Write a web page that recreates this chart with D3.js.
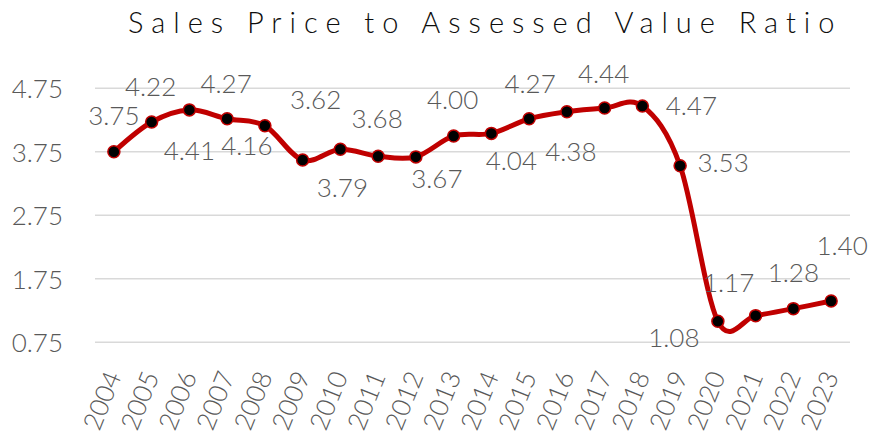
<!DOCTYPE html>
<html>
<head>
<meta charset="utf-8">
<script src="https://cdn.jsdelivr.net/npm/d3@7"></script>
<style>
  html, body { margin: 0; padding: 0; background: #fff; }
  svg { display: block; }
  text { font-family: Lato, "Open Sans", sans-serif; }
</style>
</head>
<body>
<svg id="chart" width="874" height="434"></svg>
<script>
const title = "Sales Price to Assessed Value Ratio";
const years = ["2004","2005","2006","2007","2008","2009","2010","2011","2012","2013",
               "2014","2015","2016","2017","2018","2019","2020","2021","2022","2023"];
const ratios = [3.75, 4.22, 4.41, 4.27, 4.16, 3.62, 3.79, 3.68, 3.67, 4.00,
                4.04, 4.27, 4.38, 4.44, 4.47, 3.53, 1.08, 1.17, 1.28, 1.40];
const yTicks = [0.75, 1.75, 2.75, 3.75, 4.75];

// label placement offsets (layout only), relative to each point
const labelDx = [0, -1, 0, -1, -18, 13, 2, -1, 21, -1, 20, 1, 4, -1, 49, 43, -44, -27, 0, 11];
const labelDy = [-27, -26, 50, -26, 29, -51, 48, -28, 31, -27, 37, -26, 49, -25, 9, 6, 26, -24, -27, -46];

const svg = d3.select("#chart");
const plotLeft = 95, plotRight = 850, plotTop = 88.3, plotBottom = 342.3;

const x = d3.scaleBand().domain(years).range([plotLeft, plotRight]);
const y = d3.scaleLinear().domain([0.75, 4.75]).range([plotBottom, plotTop]);
const cx = d => x(d) + x.bandwidth() / 2;

// title
const t = svg.append("text")
  .attr("x", 128).attr("y", 33)
  .attr("fill", "#0d0d0d")
  .style("font-size", "29px").style("font-weight", 300)
  .text(title);
const target = 707;
const w0 = t.node().getComputedTextLength();
const ls = (target - w0) / (title.length - 1);
t.style("letter-spacing", ls + "px");

// gridlines
svg.append("g").selectAll("line").data(yTicks).join("line")
  .attr("x1", plotLeft).attr("x2", plotRight)
  .attr("y1", d => y(d)).attr("y2", d => y(d))
  .attr("stroke", "#d9d9d9").attr("stroke-width", 1.5);

// y axis labels via d3 axis
const yAxis = d3.axisLeft(y).tickValues(yTicks).tickFormat(d3.format(".2f")).tickSize(0).tickPadding(0);
const gy = svg.append("g").attr("transform", "translate(63,0)").call(yAxis);
gy.select(".domain").remove();
gy.selectAll("text")
  .attr("fill", "#595959")
  .style("font-size", "26px").style("font-weight", 300)
  .style("font-family", "Lato, 'Open Sans', sans-serif")
  .attr("dy", "0.36em");

// x axis labels via d3 axis
const xAxis = d3.axisBottom(x).tickSize(0).tickPadding(0);
const gx = svg.append("g").call(xAxis);
gx.select(".domain").remove();
gx.selectAll(".tick").attr("transform", d => `translate(${cx(d) + 8},376)`);
gx.selectAll("text")
  .attr("fill", "#595959")
  .style("font-size", "26px").style("font-weight", 300)
  .style("font-family", "Lato, 'Open Sans', sans-serif")
  .attr("x", 0).attr("y", 0).attr("dy", 0)
  .attr("text-anchor", "end")
  .attr("transform", "rotate(-68)");

// line
const pts = years.map((yr, i) => ({yr, v: ratios[i], i}));
const line = d3.line().x(d => cx(d.yr)).y(d => y(d.v)).curve(d3.curveCardinal.tension(0));
svg.append("path").datum(pts)
  .attr("d", line)
  .attr("fill", "none")
  .attr("stroke", "#C00000")
  .attr("stroke-width", 5)
  .attr("stroke-linejoin", "round")
  .attr("stroke-linecap", "round");

// markers
svg.append("g").selectAll("circle").data(pts).join("circle")
  .attr("cx", d => cx(d.yr)).attr("cy", d => y(d.v))
  .attr("r", 6)
  .attr("fill", "#000")
  .attr("stroke", "#C00000").attr("stroke-width", 1.5);

// data labels
svg.append("g").selectAll("text").data(pts).join("text")
  .attr("x", d => cx(d.yr) + labelDx[d.i])
  .attr("y", d => y(d.v) + labelDy[d.i])
  .attr("text-anchor", "middle")
  .attr("fill", "#595959")
  .style("font-size", "26px").style("font-weight", 300)
  .text(d => d.v.toFixed(2));
</script>
</body>
</html>
